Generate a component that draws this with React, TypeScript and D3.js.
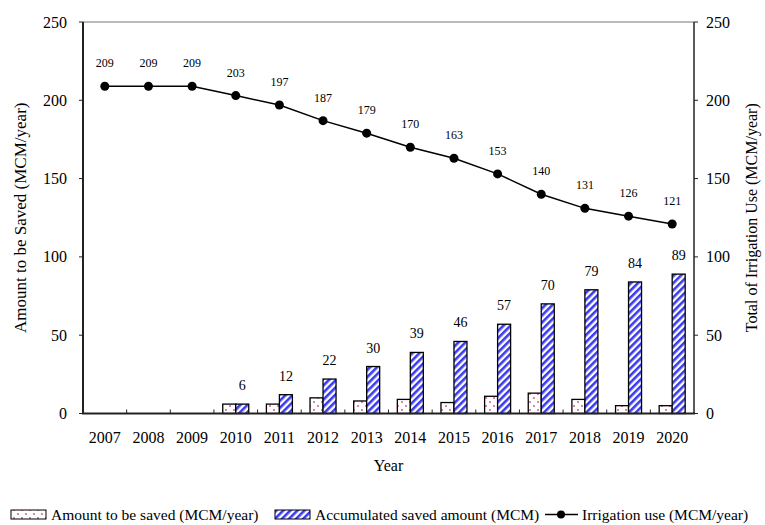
import React from 'react';
import * as d3 from 'd3';

const years = ['2007', '2008', '2009', '2010', '2011', '2012', '2013', '2014', '2015', '2016', '2017', '2018', '2019', '2020'];
const amountSaved: (number | null)[] = [null, null, null, 6, 6, 10, 8, 9, 7, 11, 13, 9, 5, 5];
const accumulated: (number | null)[] = [null, null, null, 6, 12, 22, 30, 39, 46, 57, 70, 79, 84, 89];
const irrigation = [209, 209, 209, 203, 197, 187, 179, 170, 163, 153, 140, 131, 126, 121];
const yTicks = [0, 50, 100, 150, 200, 250];

const W = 765;
const H = 525;
const L = 83;
const R = 694;
const T = 22;
const B = 413.5;
const FONT = '"Liberation Serif", "Times New Roman", serif';

export default function App() {
  const x = d3.scaleBand<string>().domain(years).range([L, R]);
  const y = d3.scaleLinear().domain([0, 250]).range([B, T]);
  const bw = 13;
  const line = d3
    .line<number>()
    .x((_, i) => (x(years[i]) as number) + x.bandwidth() / 2)
    .y((d) => y(d));

  return (
    <svg width={W} height={H} style={{ position: 'absolute', left: 0, top: 0, background: '#fff' }} fontFamily={FONT}>
      <defs>
        <pattern id="dots" patternUnits="userSpaceOnUse" width="8" height="8">
          <rect width="8" height="8" fill="#fff" />
          <circle cx="2" cy="2" r="0.9" fill="#c8507a" />
          <circle cx="6" cy="6" r="0.9" fill="#c8507a" />
        </pattern>
        <pattern id="stripes" patternUnits="userSpaceOnUse" width="5" height="5" patternTransform="rotate(45)">
          <rect width="5" height="5" fill="#fff" />
          <rect x="0" y="0" width="2.6" height="5" fill="#3a3af0" />
        </pattern>
      </defs>
      <rect width={W} height={H} fill="#fff" />

      {/* frame */}
      <line x1={L} x2={R} y1={T} y2={T} stroke="#777" strokeWidth={1} />

      {/* bars */}
      {years.map((yr, i) => {
        const cx = (x(yr) as number) + x.bandwidth() / 2;
        const a = amountSaved[i];
        const c = accumulated[i];
        return (
          <g key={yr}>
            {a != null && (
              <rect x={cx - bw} y={y(a)} width={bw} height={B - y(a)} fill="url(#dots)" stroke="#000" strokeWidth={1.3} />
            )}
            {c != null && (
              <rect x={cx} y={y(c)} width={bw} height={B - y(c)} fill="url(#stripes)" stroke="#000" strokeWidth={1.3} />
            )}
            {c != null && (
              <text x={cx + bw / 2} y={y(c) - 14} textAnchor="middle" fontSize={14}>
                {c}
              </text>
            )}
          </g>
        );
      })}

      {/* axes */}
      <line x1={L} x2={L} y1={T} y2={B} stroke="#222" strokeWidth={2} />
      <line x1={R} x2={R} y1={T} y2={B} stroke="#222" strokeWidth={1.5} />
      <line x1={L - 1} x2={R + 1} y1={B} y2={B} stroke="#222" strokeWidth={2} />

      {yTicks.map((t) => (
        <g key={t}>
          <line x1={L - 4} x2={L} y1={y(t)} y2={y(t)} stroke="#222" />
          <text x={L - 16} y={y(t) + 5.5} textAnchor="end" fontSize={16}>
            {t}
          </text>
          <line x1={R} x2={R + 4} y1={y(t)} y2={y(t)} stroke="#222" />
          <text x={R + 12} y={y(t) + 5.5} textAnchor="start" fontSize={16}>
            {t}
          </text>
        </g>
      ))}

      {years.map((yr, i) => (
        <g key={'xt' + yr}>
          {i > 0 && <line x1={x(yr) as number} x2={x(yr) as number} y1={B} y2={B - 4} stroke="#222" />}
          <text x={(x(yr) as number) + x.bandwidth() / 2} y={443} textAnchor="middle" fontSize={16}>
            {yr}
          </text>
        </g>
      ))}

      <text x={(L + R) / 2} y={471} textAnchor="middle" fontSize={16}>
        Year
      </text>
      <text transform={`translate(26,${(T + B) / 2}) rotate(-90)`} textAnchor="middle" fontSize={17}>
        Amount to be Saved (MCM/year)
      </text>
      <text transform={`translate(757,${(T + B) / 2}) rotate(-90)`} textAnchor="middle" fontSize={16}>
        Total of Irrigation Use (MCM/year)
      </text>

      {/* line */}
      <path d={line(irrigation) || ''} fill="none" stroke="#000" strokeWidth={1.5} />
      {irrigation.map((v, i) => {
        const cx = (x(years[i]) as number) + x.bandwidth() / 2;
        return (
          <g key={'p' + i}>
            <circle cx={cx} cy={y(v)} r={4.5} fill="#000" />
            <text x={cx} y={y(v) - 19} textAnchor="middle" fontSize={12}>
              {v}
            </text>
          </g>
        );
      })}

      {/* legend */}
      <g fontSize={15.5}>
        <rect x={11} y={510} width={35} height={9} fill="url(#dots)" stroke="#000" strokeWidth={1} />
        <text x={51} y={520}>Amount to be saved (MCM/year)</text>
        <rect x={275} y={510} width={35} height={9} fill="url(#stripes)" stroke="#000" strokeWidth={1} />
        <text x={315} y={520}>Accumulated saved amount (MCM)</text>
        <line x1={545} x2={578} y1={514.5} y2={514.5} stroke="#000" strokeWidth={1.5} />
        <circle cx={561} cy={514.5} r={4} fill="#000" />
        <text x={582} y={520}>Irrigation use (MCM/year)</text>
      </g>
    </svg>
  );
}
